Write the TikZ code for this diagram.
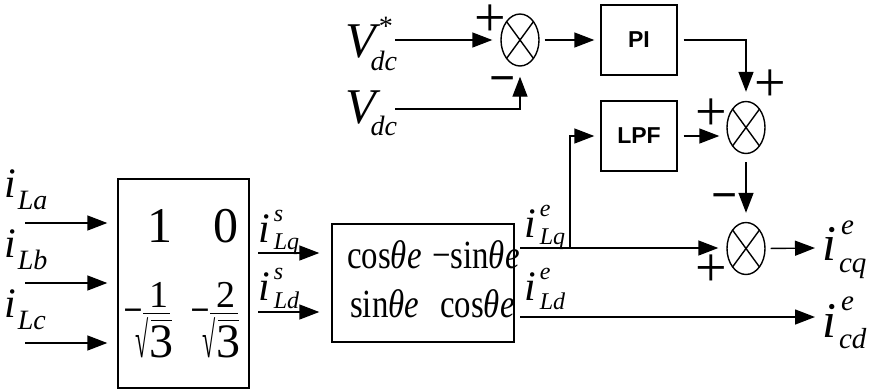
\documentclass[tikz,border=0pt]{standalone}
\usepackage{fontspec}
\usepackage{graphicx}
\setmainfont{Liberation Serif}
\newfontfamily\lsans{Liberation Sans}
\usetikzlibrary{arrows.meta,shapes.geometric}
\newcommand{\fs}[1]{\fontsize{#1}{#1}\selectfont}
\newcommand{\supsub}[7]{\fs{#1}\rlap{\kern#3\raisebox{#4}{\textit{#2}}}\kern#6\raisebox{-#7}{\textit{#5}}}
\begin{document}
\begin{tikzpicture}[x=1pt,y=-1pt,
  arr/.style={line width=1.4pt,-{Triangle[length=20pt,width=15pt]}},
  box/.style={draw,line width=1.4pt,inner sep=0pt},
  blk/.style={draw,line width=1.4pt,minimum width=76pt,minimum height=70pt,inner sep=0pt,font=\lsans\bfseries\fs{23}},
  sum/.style={draw,ellipse,line width=1.4pt,minimum width=38pt,minimum height=52pt,inner sep=0pt,
    path picture={\draw[line width=1.4pt] (path picture bounding box.north west)--(path picture bounding box.south east)
      (path picture bounding box.north east)--(path picture bounding box.south west);}},
  lbl/.style={inner sep=0pt,anchor=base west},
  num/.style={inner sep=0pt,anchor=base},
  plus/.style={inner sep=0pt,font=\fs{56}},
  minus/.style={inner sep=0pt,anchor=base,font=\bfseries\fs{46}},
]
\useasboundingbox (0,0) rectangle (872,389);

% blocks
\node[box,minimum width=131pt,minimum height=209pt] (m1) at (183.5,283.5) {};
\node[box,minimum width=182pt,minimum height=118pt] (m2) at (423,283) {};
\node[blk] (pi) at (639,40) {PI};
\node[blk] (lpf) at (639,136) {LPF};
\node[sum] (s1) at (520,40) {};
\node[sum] (s2) at (746,127.5) {};
\node[sum] (s3) at (746,248.5) {};

% matrix 1 contents
\node[num,font=\fs{50}] (e11) at (160,242) {1};
\node[num,font=\fs{50}] (e12) at (226,242) {0};
\node[num,font=\fs{38}] (n21) at (159,307) {1};
\node[num,font=\fs{38}] (n22) at (226,307) {2};
\node[num,font=\bfseries\fs{34}] (mi21) at (133,321) {−};
\node[num,font=\bfseries\fs{34}] (mi22) at (200,321) {−};
\draw[line width=1pt] (143,313) -- (170,313);
\draw[line width=1pt] (210,313) -- (238,313);
\node[num,font=\fs{48}] (d21) at (161,357) {\llap{\scalebox{0.5}[1.05]{√}}3};
\node[num,font=\fs{48}] (d22) at (228,357) {\llap{\scalebox{0.5}[1.05]{√}}3};
\draw[line width=1pt] (151,320) -- (172,320);
\draw[line width=1pt] (218,320) -- (239,320);

% matrix 2 contents
\node[lbl] (c11) at (347,268) {\scalebox{0.82}[1]{\fs{40}cos\textit{θe}}};
\node[lbl] (c12) at (432,268) {\scalebox{0.82}[1]{\fs{40}−sin\textit{θe}}};
\node[lbl] (c21) at (350,317) {\scalebox{0.82}[1]{\fs{40}sin\textit{θe}}};
\node[lbl] (c22) at (440,317) {\scalebox{0.82}[1]{\fs{40}cos\textit{θe}}};

% labels
\node[lbl] (tLa) at (4,197) {\fs{42}\textit{i}\supsub{28}{}{0pt}{0pt}{La}{2pt}{12pt}};
\node[lbl] (tLb) at (4,257) {\fs{42}\textit{i}\supsub{28}{}{0pt}{0pt}{Lb}{2pt}{12pt}};
\node[lbl] (tLc) at (4,317) {\fs{42}\textit{i}\supsub{28}{}{0pt}{0pt}{Lc}{2pt}{12pt}};
\node[lbl] (tsq) at (258,242) {\fs{42}\textit{i}\supsub{24}{s}{4pt}{21pt}{Lq}{4pt}{7pt}};
\node[lbl] (tsd) at (258,300) {\fs{42}\textit{i}\supsub{24}{s}{4pt}{21pt}{Ld}{4pt}{8pt}};
\node[lbl] (teq) at (524,237) {\fs{42}\textit{i}\supsub{24}{e}{4pt}{21pt}{Lq}{4pt}{7pt}};
\node[lbl] (ted) at (524,300) {\fs{42}\textit{i}\supsub{24}{e}{4pt}{21pt}{Ld}{4pt}{9pt}};
\node[lbl] (tcq) at (822,260) {\fs{50}\textit{i}\supsub{29}{e}{5pt}{26pt}{cq}{3pt}{12pt}};
\node[lbl] (tcd) at (822,337) {\fs{50}\textit{i}\supsub{29}{e}{5pt}{27pt}{cd}{3pt}{11pt}};
\node[lbl] (tvs) at (345,57) {\fs{50}\textit{V}\supsub{28}{*}{-3pt}{22pt}{dc}{-10pt}{13pt}};
\node[lbl] (tvd) at (345,123) {\fs{50}\textit{V}\supsub{28}{}{0pt}{0pt}{dc}{-10pt}{12pt}};

% signs
\node[plus] (p1) at (490,21) {+};
\node[minus] (q1) at (503,93) {−};
\node[plus] (p2) at (770,86) {+};
\node[plus] (p3) at (711,115) {+};
\node[minus] (q3) at (725,210) {−};
\node[plus] (p4) at (711,271) {+};

% connectors
\coordinate (vsin) at (395,40);
\coordinate (vin) at (395,109);
\draw[arr,shorten >=8pt] (vsin) -- (vsin -| s1.west);
\draw[arr,shorten >=10pt] (vin) -| (s1.south);
\draw[arr,shorten <=5pt,shorten >=6pt] (s1.east) -- (pi.west);
\draw[arr,shorten <=6pt,shorten >=9pt] (pi.east) -| (s2.north);
\draw[arr,shorten <=6pt,shorten >=7pt] (lpf.east) -- (lpf.east -| s2.west);
\draw[arr,shorten <=8pt,shorten >=9pt] (s2.south) -- (s3.north);

\coordinate (ia) at (25,223);
\coordinate (ib) at (25,283);
\coordinate (ic) at (25,343);
\draw[arr,shorten >=10pt] (ia) -- (ia -| m1.west);
\draw[arr,shorten >=10pt] (ib) -- (ib -| m1.west);
\draw[arr,shorten >=10pt] (ic) -- (ic -| m1.west);

\coordinate (qs) at (258,253);
\coordinate (ds) at (258,312);
\draw[arr,shorten >=12pt] (qs) -- (qs -| m2.west);
\draw[arr,shorten >=12pt] (ds) -- (ds -| m2.west);

\coordinate (qe) at (520,248);
\coordinate (br) at (570,248);
\coordinate (de) at (520,317);
\coordinate (cqend) at (815,248);
\coordinate (cdend) at (815,317);
\draw[arr,shorten >=8pt] (qe) -- (qe -| s3.west);
\draw[arr,shorten >=6pt] (br) |- (lpf.west);
\draw[arr] (de) -- (cdend);
\draw[arr,shorten <=5pt] (s3.east) -- (cqend);
\end{tikzpicture}
\end{document}
